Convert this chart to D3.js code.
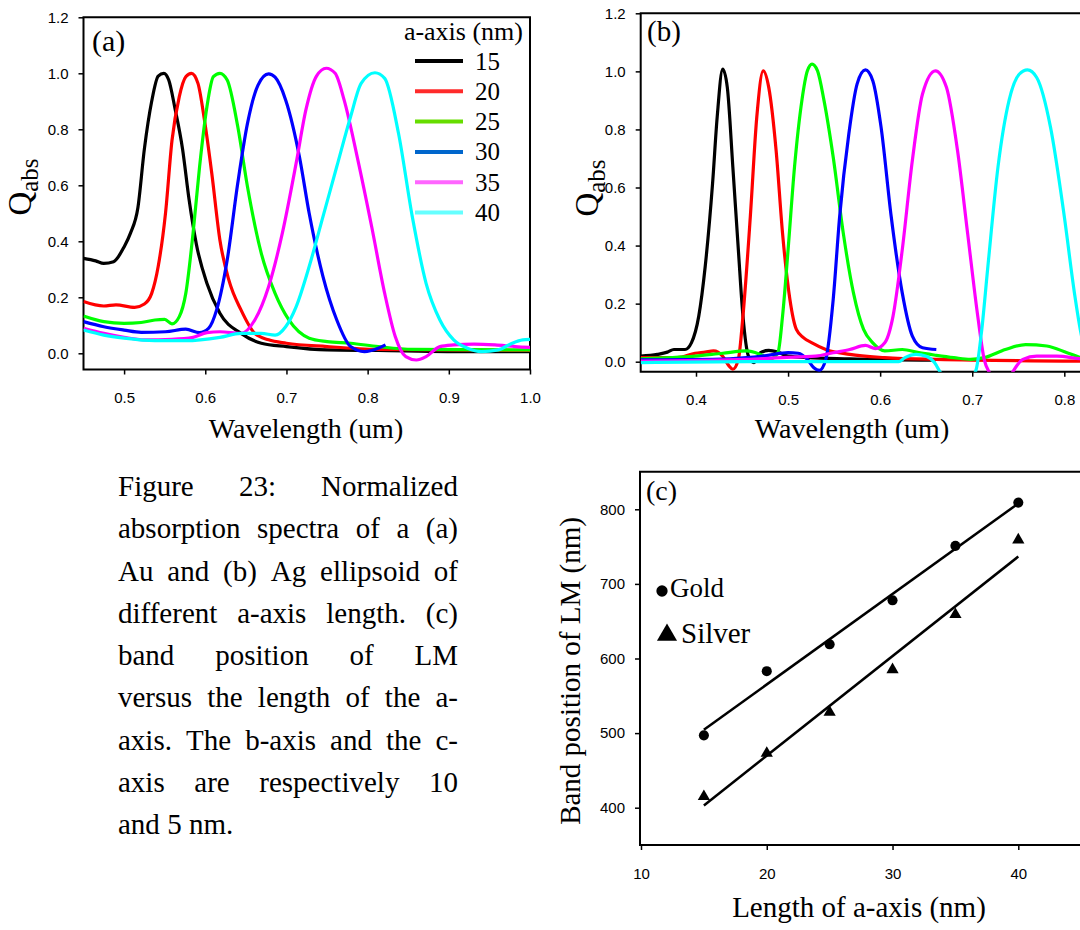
<!DOCTYPE html>
<html>
<head>
<meta charset="utf-8">
<script src="https://cdn.jsdelivr.net/npm/d3@7"></script>
<style>
  body { margin: 0; background: #fff; }
  svg { display: block; }
  .tick text { font-family: "Liberation Sans", Arial, sans-serif; font-size: 15px; fill: #000; }
  .tick line { stroke: #000; stroke-width: 1.5; }
  .serif { font-family: "Liberation Serif", "Times New Roman", serif; fill: #000; }
</style>
</head>
<body>
<svg id="fig" width="1080" height="930"></svg>
<script>
//* Data
const aAxisSizes = [15, 20, 25, 30, 35, 40];
const curveColors = ["#000000", "#ff0000", "#00ff00", "#0000ff", "#ff00ff", "#00ffff"];
const legendColors = ["#000000", "#ff2a2a", "#66dd00", "#0066cc", "#ff66ff", "#66ffff"];

// (a) Au spectra, [wavelength um, Qabs]
const au15 = [[0.45,0.339],[0.465,0.33],[0.475,0.321],[0.487,0.327],[0.5,0.38],[0.508,0.43],[0.517,0.52],[0.525,0.73],[0.534,0.9],[0.542,0.99],[0.549,1.0],[0.555,0.976],[0.563,0.87],[0.572,0.73],[0.58,0.55],[0.589,0.39],[0.602,0.25],[0.618,0.143],[0.644,0.071],[0.669,0.036],[0.7,0.024],[0.75,0.012],[0.813,0.01],[0.898,0.006],[1.0,0.006]];
const au20 = [[0.45,0.185],[0.475,0.169],[0.49,0.173],[0.513,0.164],[0.525,0.176],[0.534,0.214],[0.542,0.31],[0.551,0.5],[0.559,0.76],[0.568,0.917],[0.576,0.988],[0.583,1.0],[0.591,0.964],[0.599,0.833],[0.608,0.643],[0.618,0.405],[0.629,0.262],[0.644,0.155],[0.661,0.071],[0.678,0.048],[0.7,0.036],[0.75,0.024],[0.813,0.014],[1.0,0.01]];
const au25 = [[0.45,0.133],[0.475,0.113],[0.5,0.107],[0.521,0.11],[0.538,0.119],[0.55,0.121],[0.559,0.105],[0.568,0.131],[0.576,0.214],[0.585,0.43],[0.593,0.667],[0.602,0.88],[0.61,0.988],[0.618,1.0],[0.627,0.976],[0.64,0.81],[0.652,0.595],[0.669,0.357],[0.686,0.214],[0.703,0.119],[0.728,0.054],[0.75,0.042],[0.779,0.036],[0.813,0.024],[0.855,0.014],[1.0,0.012]];
const au30 = [[0.45,0.113],[0.475,0.095],[0.5,0.083],[0.521,0.075],[0.551,0.077],[0.576,0.086],[0.593,0.074],[0.604,0.089],[0.614,0.155],[0.627,0.333],[0.64,0.607],[0.652,0.821],[0.665,0.958],[0.678,0.998],[0.686,0.986],[0.699,0.905],[0.716,0.702],[0.728,0.5],[0.745,0.274],[0.762,0.119],[0.779,0.024],[0.796,0.006],[0.813,0.018],[0.822,0.03]];
const au35 = [[0.45,0.089],[0.475,0.071],[0.5,0.057],[0.525,0.048],[0.559,0.05],[0.585,0.057],[0.602,0.074],[0.618,0.077],[0.644,0.071],[0.661,0.119],[0.678,0.238],[0.695,0.43],[0.712,0.68],[0.724,0.87],[0.737,0.99],[0.749,1.018],[0.76,1.0],[0.771,0.905],[0.788,0.69],[0.805,0.452],[0.821,0.214],[0.834,0.06],[0.847,-0.012],[0.86,-0.024],[0.872,-0.012],[0.889,0.024],[0.906,0.03],[0.931,0.033],[0.957,0.03],[0.982,0.024],[1.0,0.021]];
const au40 = [[0.45,0.083],[0.475,0.065],[0.5,0.054],[0.538,0.045],[0.576,0.045],[0.618,0.057],[0.644,0.071],[0.669,0.071],[0.686,0.065],[0.699,0.095],[0.712,0.167],[0.728,0.31],[0.745,0.488],[0.762,0.667],[0.779,0.845],[0.792,0.964],[0.809,1.002],[0.821,0.982],[0.838,0.786],[0.855,0.488],[0.872,0.25],[0.889,0.119],[0.906,0.048],[0.923,0.018],[0.94,0.006],[0.961,0.012],[0.978,0.036],[0.991,0.048],[1.0,0.05]];

// (b) Ag spectra
const ag15 = [[0.34,0.019],[0.358,0.025],[0.369,0.033],[0.376,0.042],[0.388,0.042],[0.395,0.065],[0.403,0.157],[0.41,0.328],[0.418,0.614],[0.423,0.842],[0.429,1.008],[0.434,0.945],[0.44,0.671],[0.446,0.385],[0.451,0.157],[0.457,0.019],[0.463,-0.003],[0.47,0.031],[0.479,0.039],[0.489,0.033],[0.5,0.019],[0.522,0.014],[0.567,0.01],[0.62,0.006],[0.66,0.005]];
const ag20 = [[0.34,0.014],[0.38,0.014],[0.399,0.029],[0.41,0.033],[0.419,0.037],[0.429,0.019],[0.436,-0.015],[0.44,-0.026],[0.446,0.008],[0.451,0.157],[0.459,0.5],[0.466,0.842],[0.473,1.002],[0.479,0.945],[0.487,0.728],[0.494,0.442],[0.502,0.214],[0.509,0.111],[0.517,0.082],[0.526,0.065],[0.541,0.042],[0.567,0.025],[0.605,0.014],[0.661,0.008],[0.83,0.002]];
const ag25 = [[0.34,0.01],[0.399,0.019],[0.429,0.029],[0.455,0.037],[0.47,0.025],[0.481,0.01],[0.489,0.031],[0.494,0.157],[0.5,0.385],[0.507,0.671],[0.515,0.9],[0.521,1.002],[0.526,1.025],[0.532,1.002],[0.539,0.9],[0.549,0.705],[0.56,0.442],[0.571,0.237],[0.582,0.111],[0.592,0.065],[0.605,0.037],[0.624,0.042],[0.642,0.031],[0.661,0.022],[0.68,0.014],[0.698,0.008],[0.713,0.014],[0.736,0.042],[0.758,0.059],[0.781,0.054],[0.803,0.031],[0.818,0.014],[0.83,0.008]];
const ag30 = [[0.34,0.006],[0.418,0.008],[0.455,0.014],[0.478,0.022],[0.5,0.031],[0.511,0.029],[0.521,0.008],[0.528,-0.021],[0.534,-0.03],[0.541,0.008],[0.549,0.214],[0.556,0.5],[0.566,0.785],[0.575,0.957],[0.584,1.005],[0.592,0.968],[0.601,0.808],[0.612,0.5],[0.624,0.237],[0.635,0.088],[0.646,0.048],[0.661,0.042]];
const ag35 = [[0.34,0.002],[0.455,0.008],[0.493,0.014],[0.53,0.019],[0.549,0.031],[0.567,0.042],[0.584,0.056],[0.595,0.045],[0.605,0.065],[0.614,0.157],[0.624,0.385],[0.635,0.694],[0.646,0.922],[0.66,1.002],[0.672,0.945],[0.684,0.728],[0.695,0.442],[0.706,0.157],[0.713,0.008],[0.719,-0.04],[0.728,-0.08],[0.738,-0.07],[0.745,-0.03],[0.755,0.008],[0.77,0.019],[0.792,0.019],[0.818,0.01],[0.83,0.008]];
const ag40 = [[0.34,-0.003],[0.455,0.0],[0.62,0.0],[0.627,0.014],[0.639,0.025],[0.65,0.019],[0.659,-0.003],[0.666,-0.04],[0.68,-0.08],[0.695,-0.07],[0.704,-0.03],[0.71,0.1],[0.717,0.328],[0.728,0.671],[0.74,0.9],[0.751,0.99],[0.76,1.005],[0.77,0.979],[0.785,0.808],[0.8,0.5],[0.811,0.237],[0.818,0.1],[0.826,0.0]];

// (c) band position of LM (nm) vs a-axis length (nm)
const aLength = [15, 20, 25, 30, 35, 40];
const goldLM = [497, 583, 619, 678, 751, 809];
const silverLM = [415, 473, 528, 585, 659, 759];

const ticksA_x = [0.5, 0.6, 0.7, 0.8, 0.9, 1.0];
const ticksB_x = [0.4, 0.5, 0.6, 0.7, 0.8];
const ticksQ = [0.0, 0.2, 0.4, 0.6, 0.8, 1.0, 1.2];
const ticksC_x = [10, 20, 30, 40];
const ticksC_y = [400, 500, 600, 700, 800];

const captionLines = [
  "Figure 23: Normalized",
  "absorption spectra of a (a)",
  "Au and (b) Ag ellipsoid of",
  "different a-axis length. (c)",
  "band position of LM",
  "versus the length of the a-",
  "axis. The b-axis and the c-",
  "axis are respectively 10",
  "and 5 nm."
];

const svg = d3.select("#fig");
svg.append("rect").attr("width", 1080).attr("height", 930).attr("fill", "#fff");

//* Helpers
function frame(g, left, top, right, bottom) {
  g.append("path")
    .attr("d", `M${left},${bottom}V${top}H${right}V${bottom}Z`)
    .attr("fill", "none")
    .attr("stroke", "#000")
    .attr("stroke-width", 2);
}

function axes(g, x, y, xTicks, yTicks, xFmt, yFmt, top, bottom, left) {
  g.append("g")
    .attr("transform", `translate(0,${bottom})`)
    .call(d3.axisBottom(x).tickValues(xTicks).tickFormat(xFmt).tickSize(5).tickPadding(18))
    .call(a => a.select(".domain").remove());
  g.append("g")
    .attr("transform", `translate(${left},0)`)
    .call(d3.axisLeft(y).tickValues(yTicks).tickFormat(yFmt).tickSize(5).tickPadding(10))
    .call(a => a.select(".domain").remove());
}

function qLabel(x, y) {
  const t = svg.append("text")
    .attr("class", "serif")
    .attr("transform", `translate(${x},${y}) rotate(-90)`)
    .attr("text-anchor", "middle");
  t.append("tspan").attr("font-size", 33).text("Q");
  t.append("tspan").attr("font-size", 25).attr("dy", 7).text("abs");
}

function spectra(id, x, y, curves, left, top, right, bottom) {
  svg.append("clipPath").attr("id", id)
    .append("rect").attr("x", left).attr("y", top)
    .attr("width", right - left).attr("height", bottom - top);
  const line = d3.line()
    .x(d => x(d[0]))
    .y(d => y(d[1]))
    .curve(d3.curveMonotoneX);
  svg.append("g").attr("clip-path", `url(#${id})`)
    .selectAll("path")
    .data(curves)
    .join("path")
    .attr("d", line)
    .attr("fill", "none")
    .attr("stroke", (d, i) => curveColors[i])
    .attr("stroke-width", 3.2)
    .attr("stroke-linejoin", "round");
}

//* Panel (a)
const aL = 83.5, aR = 530, aT = 17.3, aB = 369.5;
const xA = d3.scaleLinear().domain([0.45, 1.0]).range([aL, aR]);
const yA = d3.scaleLinear().domain([0, 1.2]).range([353.3, 17.3]);
const gA = svg.append("g");
spectra("clipA", xA, yA, [au15, au20, au25, au30, au35, au40], aL, aT, aR, aB);
frame(gA, aL, aT, aR, aB);
axes(gA, xA, yA, ticksA_x, ticksQ, d3.format(".1f"), d3.format(".1f"), aT, aB, aL);
qLabel(31, 187);
svg.append("text").attr("class", "serif").attr("x", 306).attr("y", 438)
  .attr("text-anchor", "middle").attr("font-size", 28).text("Wavelength (um)");
svg.append("text").attr("class", "serif").attr("x", 92).attr("y", 51)
  .attr("font-size", 30).text("(a)");

// legend
svg.append("text").attr("class", "serif").attr("x", 523).attr("y", 40)
  .attr("text-anchor", "end").attr("font-size", 26).text("a-axis (nm)");
const leg = svg.append("g").selectAll("g")
  .data(aAxisSizes)
  .join("g")
  .attr("transform", (d, i) => `translate(0,${61 + i * 30.3})`);
leg.append("line")
  .attr("x1", 415).attr("x2", 463)
  .attr("stroke", (d, i) => legendColors[i])
  .attr("stroke-width", 4);
leg.append("text").attr("class", "serif")
  .attr("x", 475).attr("y", 8.5)
  .attr("font-size", 25)
  .text(d => d);

//* Panel (b)
const bL = 640.7, bR = 1095, bT = 13.3, bB = 371.7;
const xB = d3.scaleLinear().domain([0.4, 0.8]).range([696, 1064.3]);
const yB = d3.scaleLinear().domain([0, 1.2]).range([361.7, 13.3]);
const gB = svg.append("g");
spectra("clipB", xB, yB, [ag15, ag20, ag25, ag30, ag35, ag40], bL, bT, bR, bB);
frame(gB, bL, bT, bR, bB);
axes(gB, xB, yB, ticksB_x, ticksQ, d3.format(".1f"), d3.format(".1f"), bT, bB, bL);
qLabel(598, 188);
svg.append("text").attr("class", "serif").attr("x", 852).attr("y", 438)
  .attr("text-anchor", "middle").attr("font-size", 28).text("Wavelength (um)");
svg.append("text").attr("class", "serif").attr("x", 647).attr("y", 41)
  .attr("font-size", 29).text("(b)");

//* Panel (c)
const cL = 640, cR = 1100, cT = 471.7, cB = 845;
const xC = d3.scaleLinear().domain([10, 40]).range([641, 1018.3]);
const yC = d3.scaleLinear().domain([400, 800]).range([807.7, 509.3]);
const gC = svg.append("g");
frame(gC, cL, cT, cR, cB);
axes(gC, xC, yC, ticksC_x, ticksC_y, d3.format("d"), d3.format("d"), cT, cB, cL);

// least-squares lines through each set
function fit(xs, ys) {
  const mx = d3.mean(xs), my = d3.mean(ys);
  const slope = d3.sum(xs, (v, i) => (v - mx) * (ys[i] - my)) / d3.sum(xs, v => (v - mx) ** 2);
  const ext = d3.extent(xs);
  return ext.map(v => [v, my + slope * (v - mx)]);
}
const fitLine = d3.line().x(d => xC(d[0])).y(d => yC(d[1]));
[goldLM, silverLM].forEach(ys => {
  gC.append("path")
    .attr("d", fitLine(fit(aLength, ys)))
    .attr("stroke", "#000").attr("stroke-width", 2.5).attr("fill", "none");
});

gC.selectAll(".gold")
  .data(aLength)
  .join("path")
  .attr("class", "gold")
  .attr("transform", (d, i) => `translate(${xC(d)},${yC(goldLM[i])})`)
  .attr("d", d3.symbol(d3.symbolCircle, 80));
gC.selectAll(".silver")
  .data(aLength)
  .join("path")
  .attr("class", "silver")
  .attr("transform", (d, i) => `translate(${xC(d)},${yC(silverLM[i])})`)
  .attr("d", d3.symbol(d3.symbolTriangle, 65));

svg.append("text").attr("class", "serif").attr("x", 646).attr("y", 500)
  .attr("font-size", 28).text("(c)");
svg.append("path").attr("transform", "translate(662,591)")
  .attr("d", d3.symbol(d3.symbolCircle, 100));
svg.append("text").attr("class", "serif").attr("x", 670).attr("y", 597)
  .attr("font-size", 27).text("Gold");
svg.append("path").attr("transform", "translate(667,635)")
  .attr("d", d3.symbol(d3.symbolTriangle, 175));
svg.append("text").attr("class", "serif").attr("x", 681).attr("y", 643)
  .attr("font-size", 29).text("Silver");

svg.append("text").attr("class", "serif")
  .attr("transform", "translate(580,671) rotate(-90)")
  .attr("text-anchor", "middle").attr("font-size", 29)
  .text("Band position of LM (nm)");
svg.append("text").attr("class", "serif").attr("x", 859).attr("y", 917)
  .attr("text-anchor", "middle").attr("font-size", 29)
  .text("Length of a-axis (nm)");

//* Caption, justified lines
const capLeft = 118, capRight = 458, capTop = 496, capStep = 42.25;
const cap = svg.append("g").attr("class", "serif").attr("font-size", 29);
captionLines.forEach((ln, li) => {
  const words = ln.split(" ");
  const yPos = capTop + li * capStep;
  const nodes = words.map(w => cap.append("text").attr("y", yPos).text(w));
  const widths = nodes.map(n => n.node().getComputedTextLength());
  const last = li === captionLines.length - 1;
  const space = 29 * 0.25;
  const gap = last || words.length < 2 ? space
    : (capRight - capLeft - d3.sum(widths)) / (words.length - 1);
  let xPos = capLeft;
  nodes.forEach((n, i) => {
    n.attr("x", xPos);
    xPos += widths[i] + gap;
  });
});
</script>
</body>
</html>
